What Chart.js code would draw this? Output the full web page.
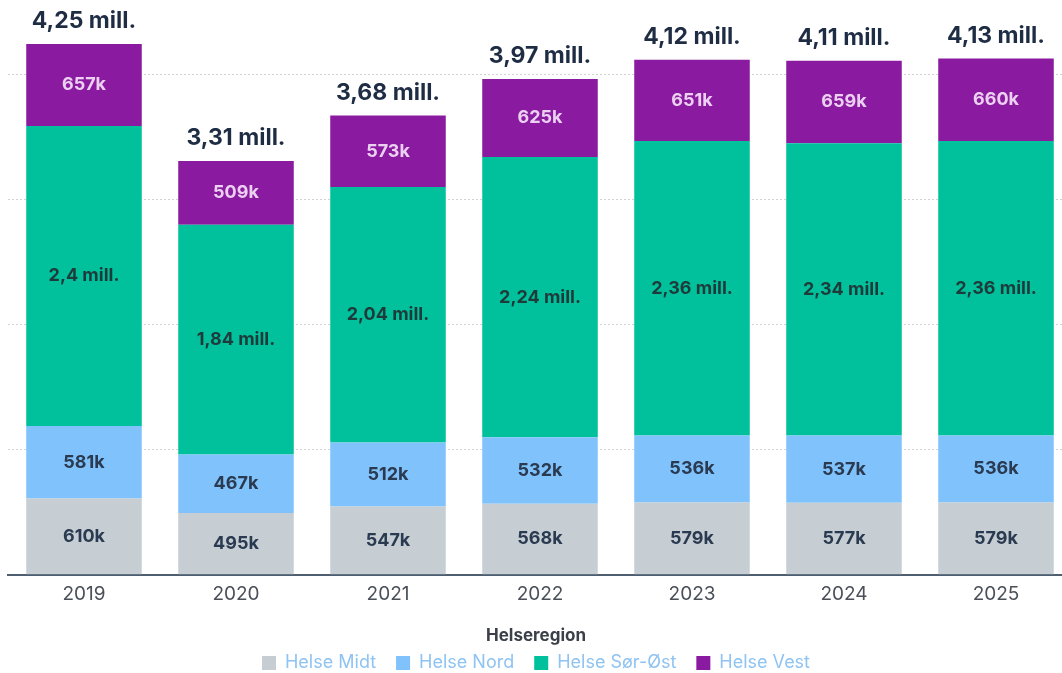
<!DOCTYPE html>
<html>
<head>
<meta charset="utf-8">
<script src="https://cdn.jsdelivr.net/npm/chart.js@4.4.0/dist/chart.umd.min.js"></script>
<style>
  html, body { margin: 0; padding: 0; background: #fff; overflow: hidden; }
  #wrap { width: 1072px; height: 682px; }
</style>
</head>
<body>
<div id="wrap"><canvas id="myChart"></canvas></div>
<script>
// data
var years = ['2019', '2020', '2021', '2022', '2023', '2024', '2025'];
var helseMidt = [610000, 495000, 547000, 568000, 579000, 577000, 579000];
var helseNord = [581000, 467000, 512000, 532000, 536000, 537000, 536000];
var helseSorOst = [2400000, 1840000, 2044000, 2243000, 2356000, 2340000, 2356000];
var helseVest = [657000, 509000, 573000, 625000, 651000, 659000, 660000];
var gridValues = [0, 1000000, 2000000, 3000000, 4000000];

var font = 'Inter, "Noto Sans", sans-serif';

function fmt(v) {
  if (v >= 1000000) {
    var m = Math.round(v / 10000) / 100;
    return String(m).replace('.', ',') + ' mill.';
  }
  return Math.round(v / 1000) + 'k';
}

var labelPlugin = {
  id: 'labels',
  afterDatasetsDraw: function(chart) {
    var ctx = chart.ctx;
    ctx.save();
    ctx.textAlign = 'center';
    ctx.textBaseline = 'middle';
    chart.data.datasets.forEach(function(ds, i) {
      var meta = chart.getDatasetMeta(i);
      meta.data.forEach(function(bar, j) {
        ctx.font = 'bold 18px ' + font;
        ctx.fillStyle = ds.labelColor;
        ctx.fillText(fmt(ds.data[j]), bar.x, (bar.y + bar.base) / 2);
      });
    });
    var last = chart.getDatasetMeta(chart.data.datasets.length - 1);
    last.data.forEach(function(bar, j) {
      var total = helseMidt[j] + helseNord[j] + helseSorOst[j] + helseVest[j];
      ctx.font = 'bold 23px ' + font;
      ctx.fillStyle = '#1f2d44';
      ctx.textBaseline = 'bottom';
      ctx.fillText(fmt(total), bar.x, bar.y - 11);
    });
    ctx.restore();
  }
};

document.addEventListener("DOMContentLoaded", function()
{
  var el = document.getElementById("myChart");

  new Chart(el, {
    type: 'bar',
    data: {
      labels: years,
      datasets: [
        { label: 'Helse Midt', data: helseMidt, backgroundColor: '#c6ced3', labelColor: '#2a3a50' },
        { label: 'Helse Nord', data: helseNord, backgroundColor: '#80c2fb', labelColor: '#2a3a50' },
        { label: 'Helse Sør-Øst', data: helseSorOst, backgroundColor: '#00c19b', labelColor: '#1f3a3a' },
        { label: 'Helse Vest', data: helseVest, backgroundColor: '#8a1a9f', labelColor: '#ecd0f2' }
      ]
    },
    options: {
      responsive: true,
      maintainAspectRatio: false,
      animation: false,
      datasets: { bar: { categoryPercentage: 0.76, barPercentage: 1 } },
      layout: { padding: { left: 0, right: 0, top: 0, bottom: 0 } },
      plugins: {
        tooltip: { enabled: false },
        legend: {
          position: 'bottom',
          title: {
            display: true,
            text: 'Helseregion',
            color: '#3a3f48',
            font: { family: font, size: 17, weight: 'bold' },
            padding: { top: 22, bottom: -14 }
          },
          labels: {
            boxWidth: 14,
            boxHeight: 14,
            padding: 20,
            color: '#8ec3f2',
            font: { family: font, size: 18 }
          }
        }
      },
      scales: {
        x: {
          stacked: true,
          grid: { display: false },
          border: { display: true, color: '#4d5e70', width: 2 },
          ticks: { color: '#4a4f58', font: { family: font, size: 19 }, padding: 0 }
        },
        y: {
          stacked: true,
          min: 0,
          max: 4600000,
          afterFit: function(s) { s.width = 8; },
          afterBuildTicks: function(s) {
            s.ticks = gridValues.map(function(v) { return { value: v }; });
          },
          ticks: { display: false },
          grid: { color: '#d2d2d2', lineWidth: 1, drawTicks: false },
          border: { display: false, dash: [2, 2] }
        }
      }
    },
    plugins: [labelPlugin]
  });
});
</script>
</body>
</html>
